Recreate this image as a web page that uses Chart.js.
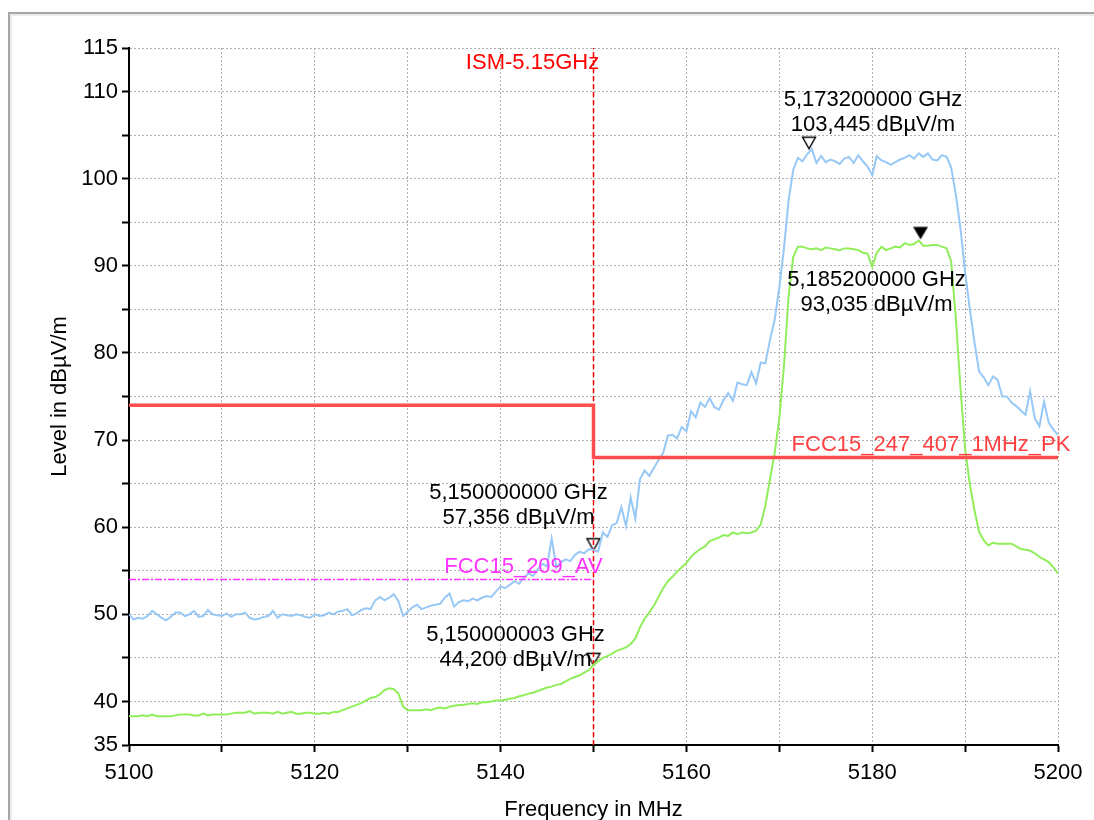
<!DOCTYPE html>
<html>
<head>
<meta charset="utf-8">
<script src="https://cdn.jsdelivr.net/npm/chart.js@4.4.1/dist/chart.umd.min.js"></script>
<style>
  html, body { margin: 0; padding: 0; background: #fff; overflow: hidden; }
  #frame {
    position: absolute; left: 8px; top: 12px; width: 1200px; height: 900px;
    border-left: 2px solid #a6a6a6; border-top: 2px solid #a6a6a6;
    box-shadow: inset 2px 2px 0 #ececec;
  }
  #chart { position: absolute; left: 0; top: 0; }
</style>
</head>
<body>
<div id="frame"></div>
<canvas id="chart" width="1094" height="820"></canvas>
<script>
// sweep: 5100 .. 5200 MHz, 0.5 MHz per point
const sweepStart = 5100;
const sweepStep = 0.5;

// peak trace (blue), dBuV/m
const peakLevels = [
  50.0, 49.4, 49.6, 49.5, 49.8, 50.4, 50.0, 49.6, 49.3, 49.7,
  50.2, 50.2, 49.8, 50.0, 50.4, 49.7, 49.8, 50.5, 50.0, 49.9,
  49.8, 50.1, 49.7, 50.0, 50.0, 50.2, 49.6, 49.4, 49.5, 49.7,
  49.8, 50.4, 49.6, 50.0, 49.9, 49.8, 50.0, 49.9, 49.7, 49.6,
  50.0, 49.8, 49.9, 50.2, 50.0, 50.3, 50.4, 50.6, 49.9, 50.1,
  50.5, 50.7, 50.6, 51.6, 52.0, 51.6, 51.9, 52.3, 51.5, 49.8,
  50.3, 50.8, 51.1, 50.6, 50.8, 51.0, 51.1, 51.2, 51.9, 52.4,
  50.9, 51.4, 51.6, 51.5, 51.8, 51.6, 51.9, 52.1, 52.0, 52.6,
  53.2, 53.0, 53.4, 53.8, 53.5, 54.2, 54.7, 54.4, 55.2, 55.8,
  55.5, 58.7, 55.4, 56.0, 56.3, 56.1, 56.8, 57.2, 57.0, 57.5,
  57.4, 57.2, 59.4, 58.9, 60.2, 60.5, 62.3, 60.1, 63.4, 61.0,
  65.5, 66.5, 65.9, 66.8, 67.7, 68.5, 70.5, 70.6, 70.2, 71.5,
  71.0, 73.3, 72.6, 74.3, 73.8, 74.8, 73.8, 73.5, 74.6, 75.4,
  74.5, 76.6, 76.4, 76.3, 77.8, 76.5, 78.9, 78.8, 81.5, 83.8,
  87.5, 92.0, 97.5, 101.0, 102.4, 102.0, 102.8, 103.4, 101.8, 102.6,
  101.9, 102.2, 102.0, 101.7, 102.3, 102.5, 101.8, 102.7, 102.0, 101.4,
  100.4, 102.6, 102.1, 101.9, 101.6, 101.9, 102.2, 102.4, 102.7, 102.3,
  102.9, 102.5, 102.9, 102.2, 102.1, 102.7, 102.5, 101.3, 98.2, 94.3,
  89.3, 85.1, 81.3, 77.9, 77.2, 76.3, 77.3, 76.9, 75.0, 75.0,
  74.3, 73.9, 73.4, 72.9, 75.6, 72.5, 71.6, 74.4, 72.0, 71.2,
  70.6
];

// average trace (green), dBuV/m
const avgLevels = [
  38.3, 38.3, 38.3, 38.4, 38.3, 38.5, 38.3, 38.3, 38.3, 38.3,
  38.4, 38.5, 38.5, 38.5, 38.4, 38.4, 38.6, 38.4, 38.5, 38.5,
  38.5, 38.5, 38.6, 38.7, 38.7, 38.7, 38.9, 38.6, 38.7, 38.7,
  38.7, 38.6, 38.8, 38.6, 38.7, 38.8, 38.6, 38.6, 38.7, 38.7,
  38.6, 38.6, 38.7, 38.6, 38.8, 38.8, 39.0, 39.2, 39.4, 39.6,
  39.8, 40.1, 40.4, 40.5, 40.8, 41.3, 41.5, 41.4, 40.9, 39.4,
  39.0, 39.0, 39.0, 39.0, 39.1, 39.0, 39.2, 39.3, 39.2, 39.4,
  39.5, 39.6, 39.6, 39.7, 39.8, 39.7, 39.9, 39.9, 40.0, 40.1,
  40.1, 40.2, 40.3, 40.4, 40.6, 40.7, 40.9, 41.0, 41.2, 41.4,
  41.6, 41.7, 41.9, 42.0, 42.3, 42.6, 42.8, 43.0, 43.3, 43.6,
  44.2, 44.6, 45.0, 45.2, 45.5, 45.8, 46.0, 46.2, 46.6, 47.2,
  48.5, 49.5, 50.2, 51.0, 52.0, 53.0, 53.8, 54.3, 54.9, 55.4,
  55.9, 56.6, 57.1, 57.5, 57.8, 58.4, 58.6, 58.8, 59.1, 59.0,
  59.4, 59.2, 59.4, 59.3, 59.4, 59.6, 60.3, 62.5, 65.5, 68.5,
  72.5, 78.5, 86.5, 91.0, 92.2, 92.2, 92.0, 91.9, 92.0, 91.8,
  92.1, 92.0, 91.9, 91.8, 92.0, 92.0, 91.9, 91.8, 91.5, 91.4,
  89.9, 91.5, 92.2, 91.8, 92.0, 92.2, 92.1, 92.6, 92.4, 92.5,
  92.9, 92.3, 92.3, 92.4, 92.4, 92.2, 92.0, 90.5, 84.0, 76.0,
  69.0, 65.0, 62.0, 59.5, 58.5, 57.9, 58.2, 58.1, 58.1, 58.1,
  58.1, 57.8, 57.5, 57.4, 57.3, 57.0, 56.6, 56.3, 56.0, 55.4,
  54.7
];

// limit lines
const pkLimitFreqs = [5100, 5150, 5150, 5200];
const pkLimitLevels = [74, 74, 68, 68];
const avLimitFreqs = [5100, 5150];
const avLimitLevels = [54, 54];
const ismFreq = 5150;

// markers
const markerFreqs = [5173.2, 5185.2, 5150.0, 5150.0];
const markerLevels = [103.445, 93.035, 57.356, 44.2];
const markerFilled = [false, true, false, false];
const markerLines = [
  ["5,173200000 GHz", "103,445 dBµV/m"],
  ["5,185200000 GHz", "93,035 dBµV/m"],
  ["5,150000000 GHz", "57,356 dBµV/m"],
  ["5,150000003 GHz", "44,200 dBµV/m"]
];

const yLabelTicks = [35, 40, 50, 60, 70, 80, 90, 100, 110, 115];
const xLabelTicks = [5100, 5120, 5140, 5160, 5180, 5200];

const FONT = '"Liberation Sans", Arial, sans-serif';

function toXY(freqs, levels) {
  return freqs.map((f, i) => ({ x: f, y: levels[i] }));
}
function sweep(levels) {
  return levels.map((v, i) => ({ x: sweepStart + i * sweepStep, y: v }));
}

// triangle marker with its tip at the point
function makeTriangle(filled) {
  const c = document.createElement('canvas');
  c.width = 18; c.height = 28;
  const g = c.getContext('2d');
  g.beginPath();
  if (filled) {
    g.moveTo(1.5, 1.5); g.lineTo(16.5, 1.5); g.lineTo(9, 14); g.closePath();
    g.fillStyle = '#000'; g.fill();
  } else {
    g.moveTo(2.5, 2.5); g.lineTo(15.5, 2.5); g.lineTo(9, 14); g.closePath();
    g.fillStyle = '#fff'; g.fill();
    g.lineWidth = 1.4; g.strokeStyle = '#000'; g.stroke();
  }
  return c;
}

const textPlugin = {
  id: 'texts',
  afterDatasetsDraw(chart) {
    const ctx = chart.ctx;
    const xs = chart.scales.x, ys = chart.scales.y;
    ctx.save();
    ctx.font = '22px ' + FONT;
    ctx.textBaseline = 'middle';
    ctx.textAlign = 'center';

    // marker readouts: [dx, dy of first line]
    const offs = [[64, -49], [-44, 41], [-75, -57], [-78, -30]];
    ctx.fillStyle = '#000';
    markerFreqs.forEach((f, i) => {
      const px = xs.getPixelForValue(f), py = ys.getPixelForValue(markerLevels[i]);
      ctx.fillText(markerLines[i][0], px + offs[i][0], py + offs[i][1]);
      ctx.fillText(markerLines[i][1], px + offs[i][0], py + offs[i][1] + 25);
    });

    // limit line names
    ctx.fillStyle = '#ff0000';
    ctx.fillText('ISM-5.15GHz', xs.getPixelForValue(ismFreq) - 61, ys.top + 15);
    ctx.fillStyle = '#ff33ff';
    ctx.fillText('FCC15_209_AV', xs.getPixelForValue(ismFreq) - 70, ys.getPixelForValue(avLimitLevels[1]) - 13);
    ctx.fillStyle = '#ff4040';
    ctx.fillText('FCC15_247_407_1MHz_PK', xs.right - 127, ys.getPixelForValue(pkLimitLevels[3]) - 13);
    ctx.restore();
  }
};

new Chart(document.getElementById('chart'), {
  type: 'line',
  data: {
    datasets: [
      {
        data: toXY(pkLimitFreqs, pkLimitLevels),
        borderColor: '#ff4d4d', borderWidth: 3.5, pointRadius: 0, tension: 0
      },
      {
        data: toXY(avLimitFreqs, avLimitLevels),
        borderColor: '#ff33ff', borderWidth: 1.5, borderDash: [7, 2, 2, 2], pointRadius: 0
      },
      {
        data: sweep(avgLevels),
        borderColor: '#90ee5a', borderWidth: 2, pointRadius: 0, tension: 0
      },
      {
        data: sweep(peakLevels),
        borderColor: '#98c8f6', borderWidth: 2, pointRadius: 0, tension: 0
      },
      {
        data: [{ x: ismFreq, y: 35 }, { x: ismFreq, y: 115 }],
        borderColor: '#ff0000', borderWidth: 1.5, borderDash: [5, 3], pointRadius: 0
      },
      {
        type: 'scatter',
        data: toXY(markerFreqs, markerLevels),
        pointStyle: markerFilled.map(makeTriangle),
        pointRadius: 9,
        showLine: false
      }
    ]
  },
  options: {
    responsive: false,
    animation: false,
    events: [],
    layout: { padding: { top: 48, right: 36, left: 0, bottom: 0 } },
    plugins: { legend: { display: false }, tooltip: { enabled: false } },
    scales: {
      x: {
        type: 'linear', min: 5100, max: 5200,
        afterFit: s => { s.height = 75; },
        ticks: {
          stepSize: 10, autoSkip: false, maxRotation: 0, padding: 8,
          color: '#000', font: { family: FONT, size: 22 },
          callback: v => xLabelTicks.includes(v) ? String(v) : ''
        },
        grid: { color: '#b0b0b0', lineWidth: 1, tickColor: '#000', tickWidth: 2, tickLength: 7 },
        border: { color: '#000', width: 2, dash: [2, 2] },
        title: {
          display: true, text: 'Frequency in MHz', color: '#000',
          font: { family: FONT, size: 22 }, padding: { top: 0, bottom: -3 }
        }
      },
      y: {
        min: 35, max: 115,
        afterFit: s => { s.width = 129; },
        afterBuildTicks: s => {
          s.ticks = [];
          for (let v = 35; v <= 115; v += 5) s.ticks.push({ value: v });
        },
        ticks: {
          autoSkip: false, padding: 4,
          color: '#000', font: { family: FONT, size: 22 },
          callback: v => yLabelTicks.includes(v) ? String(v) : ''
        },
        grid: { color: '#b0b0b0', lineWidth: 1, tickColor: '#000', tickWidth: 2, tickLength: 7 },
        border: { color: '#000', width: 2, dash: [2, 2] },
        title: {
          display: true, text: 'Level in dBµV/m', color: '#000',
          font: { family: FONT, size: 22 }, padding: { top: 47, bottom: 0 }
        }
      }
    }
  },
  plugins: [textPlugin]
});
</script>
</body>
</html>
